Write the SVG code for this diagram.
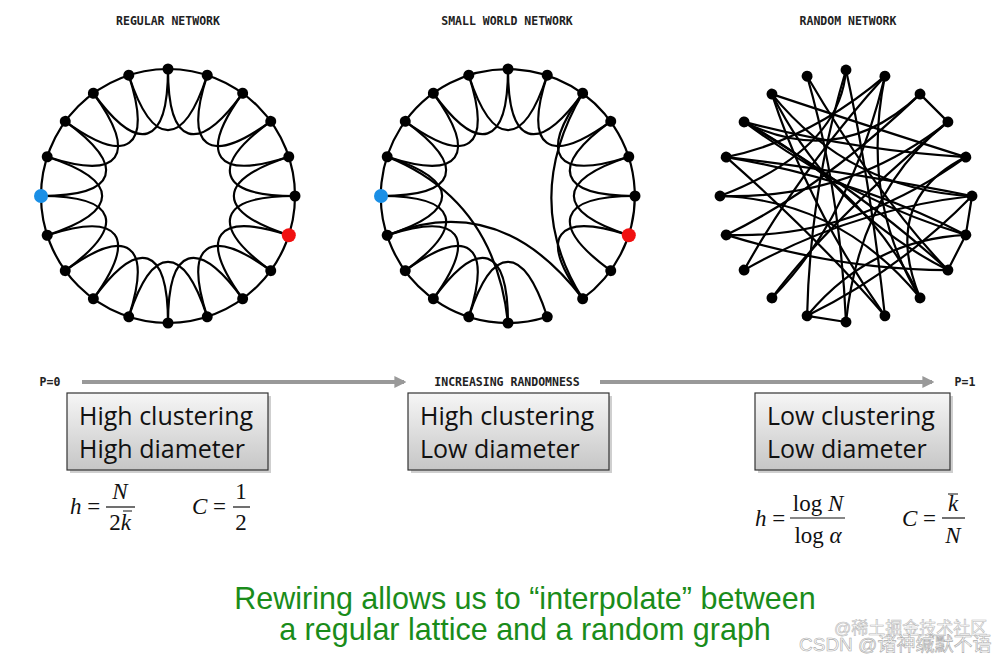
<svg xmlns="http://www.w3.org/2000/svg" xmlns:xlink="http://www.w3.org/1999/xlink" width="1005" height="660" viewBox="0 0 1005 660">
<defs>
<style>
.t{font-family:"DejaVu Sans Mono",monospace;font-weight:bold;font-size:11.5px;fill:#222;text-anchor:middle}
.e{fill:none;stroke:#000;stroke-width:2.2}
.n{fill:#000}
.bx{fill:url(#g);stroke:#333;stroke-width:1.2}
.bt{font-family:"Open Sans",sans-serif;font-size:25px;fill:#111}
.m{font-family:"Liberation Serif",serif;font-size:23px;fill:#111}
.i{font-style:italic}
.gr{font-family:"Liberation Sans",sans-serif;font-size:30.5px;fill:#1a8c1a;text-anchor:middle}
</style>
<linearGradient id="g" x1="0" y1="0" x2="0" y2="1"><stop offset="0" stop-color="#f6f6f6"/><stop offset="1" stop-color="#c6c6c6"/></linearGradient>
<marker id="ar" viewBox="0 0 10 10" refX="8" refY="5" markerWidth="3" markerHeight="3" orient="auto"><path d="M0 0L10 5L0 10z" fill="#999"/></marker>
<path id="sk" d="M127 0C50 0 40.5 29.4 102.7 74.6"/>
<circle id="nd" cx="127" cy="0" r="5.5"/>
</defs>
<rect width="1005" height="660" fill="#fff"/>
<text class="t" x="168" y="25">REGULAR NETWORK</text>
<text class="t" x="507" y="25">SMALL WORLD NETWORK</text>
<text class="t" x="848" y="25">RANDOM NETWORK</text>

<g id="connectors">
<g transform="translate(168 196)" class="e">
<circle r="127"/>
<use href="#sk"/><use href="#sk" transform="rotate(18)"/><use href="#sk" transform="rotate(36)"/><use href="#sk" transform="rotate(54)"/><use href="#sk" transform="rotate(72)"/><use href="#sk" transform="rotate(90)"/><use href="#sk" transform="rotate(108)"/><use href="#sk" transform="rotate(126)"/><use href="#sk" transform="rotate(144)"/><use href="#sk" transform="rotate(162)"/><use href="#sk" transform="rotate(180)"/><use href="#sk" transform="rotate(198)"/><use href="#sk" transform="rotate(216)"/><use href="#sk" transform="rotate(234)"/><use href="#sk" transform="rotate(252)"/><use href="#sk" transform="rotate(270)"/><use href="#sk" transform="rotate(288)"/><use href="#sk" transform="rotate(306)"/><use href="#sk" transform="rotate(324)"/><use href="#sk" transform="rotate(342)"/>
</g>
<g transform="translate(508 196)" class="e">
<path d="M74.6 102.7A127 127 0 1 0 39.2 120.8"/>
<use href="#sk"/><use href="#sk" transform="rotate(18)"/><use href="#sk" transform="rotate(72)"/><use href="#sk" transform="rotate(90)"/><use href="#sk" transform="rotate(108)"/><use href="#sk" transform="rotate(126)"/><use href="#sk" transform="rotate(144)"/><use href="#sk" transform="rotate(162)"/><use href="#sk" transform="rotate(180)"/><use href="#sk" transform="rotate(198)"/><use href="#sk" transform="rotate(216)"/><use href="#sk" transform="rotate(234)"/><use href="#sk" transform="rotate(252)"/><use href="#sk" transform="rotate(270)"/><use href="#sk" transform="rotate(288)"/><use href="#sk" transform="rotate(306)"/><use href="#sk" transform="rotate(324)"/><use href="#sk" transform="rotate(342)"/>
</g>
<g class="e">
<path d="M387.2 156.8Q495 200 508 323"/>
<path d="M387.2 235.2Q500 190 582.7 298.7"/>
<path d="M582.7 93.3Q520 200 582.7 298.7"/>
</g>
<g class="e" stroke-width="2">
<path d="M771.9 94.1Q850 190 972 196"/>
<path d="M771.9 94.1Q810 210 884.9 315.8"/>
<path d="M744.1 121.9Q860 190 947.9 270.1"/>
<path d="M744.1 121.9Q850 150 965.8 157.1"/>
<path d="M726.2 157.1Q860 180 965.8 234.9"/>
<path d="M726.2 157.1Q810 140 884.9 76.2"/>
<path d="M720 196Q850 200 947.9 121.9"/>
<path d="M720 196Q840 200 920.1 297.9"/>
<path d="M726.2 234.9Q820 190 920.1 94.1"/>
<path d="M726.2 234.9Q850 240 965.8 157.1"/>
<path d="M744.1 270.1Q800 170 884.9 76.2"/>
<path d="M744.1 270.1Q850 210 972 196"/>
<path d="M771.9 297.9Q850 220 884.9 76.2"/>
<path d="M771.9 297.9Q830 220 947.9 121.9"/>
<path d="M807.1 315.8Q810 190 846 70"/>
<path d="M807.1 315.8Q870 240 965.8 234.9"/>
<path d="M846 322Q840 190 807.1 76.2"/>
<path d="M846 322Q860 190 947.9 121.9"/>
<path d="M884.9 315.8Q820 240 726.2 157.1"/>
<path d="M884.9 315.8Q870 180 846 70"/>
<path d="M920.1 297.9Q870 190 744.1 121.9"/>
<path d="M920.1 297.9Q880 200 965.8 157.1"/>
<path d="M947.9 270.1Q830 210 771.9 94.1"/>
<path d="M947.9 270.1Q840 270 726.2 234.9"/>
<path d="M965.8 234.9Q850 200 744.1 121.9"/>
<path d="M972 196Q840 170 726.2 157.1"/>
<path d="M807.1 76.2Q880 200 947.9 270.1"/>
<path d="M920.1 94.1Q840 170 744.1 121.9"/>
<path d="M846 70Q840 150 720 196"/>
<path d="M771.9 94.1Q880 130 965.8 157.1"/>
<path d="M807.1 315.8Q900 270 972 196"/>
<path d="M884.9 76.2Q860 200 920.1 297.9"/>
<path d="M920.1 94.1L947.9 121.9M972 196L965.8 234.9M965.8 234.9L947.9 270.1M807.1 315.8L846 322"/>
</g>
</g>

<g id="regular-nodes" transform="translate(168 196)" class="n">
<use href="#nd"/><use href="#nd" transform="rotate(36)"/><use href="#nd" transform="rotate(54)"/><use href="#nd" transform="rotate(72)"/><use href="#nd" transform="rotate(90)"/><use href="#nd" transform="rotate(108)"/><use href="#nd" transform="rotate(126)"/><use href="#nd" transform="rotate(144)"/><use href="#nd" transform="rotate(162)"/><use href="#nd" transform="rotate(198)"/><use href="#nd" transform="rotate(216)"/><use href="#nd" transform="rotate(234)"/><use href="#nd" transform="rotate(252)"/><use href="#nd" transform="rotate(270)"/><use href="#nd" transform="rotate(288)"/><use href="#nd" transform="rotate(306)"/><use href="#nd" transform="rotate(324)"/><use href="#nd" transform="rotate(342)"/>
<circle cx="-127" cy="0" r="7" fill="#1a8fe6"/>
<circle cx="120.8" cy="39.2" r="7" fill="#f01010"/>
</g>
<g id="smallworld-nodes" transform="translate(508 196)" class="n">
<use href="#nd"/><use href="#nd" transform="rotate(36)"/><use href="#nd" transform="rotate(54)"/><use href="#nd" transform="rotate(72)"/><use href="#nd" transform="rotate(90)"/><use href="#nd" transform="rotate(108)"/><use href="#nd" transform="rotate(126)"/><use href="#nd" transform="rotate(144)"/><use href="#nd" transform="rotate(162)"/><use href="#nd" transform="rotate(198)"/><use href="#nd" transform="rotate(216)"/><use href="#nd" transform="rotate(234)"/><use href="#nd" transform="rotate(252)"/><use href="#nd" transform="rotate(270)"/><use href="#nd" transform="rotate(288)"/><use href="#nd" transform="rotate(306)"/><use href="#nd" transform="rotate(324)"/><use href="#nd" transform="rotate(342)"/>
<circle cx="-127" cy="0" r="7" fill="#1a8fe6"/>
<circle cx="120.8" cy="39.2" r="7" fill="#f01010"/>
</g>
<g id="random-nodes" transform="translate(846 196) scale(0.992)" class="n">
<use href="#nd"/><use href="#nd" transform="rotate(18)"/><use href="#nd" transform="rotate(36)"/><use href="#nd" transform="rotate(54)"/><use href="#nd" transform="rotate(72)"/><use href="#nd" transform="rotate(90)"/><use href="#nd" transform="rotate(108)"/><use href="#nd" transform="rotate(126)"/><use href="#nd" transform="rotate(144)"/><use href="#nd" transform="rotate(162)"/><use href="#nd" transform="rotate(180)"/><use href="#nd" transform="rotate(198)"/><use href="#nd" transform="rotate(216)"/><use href="#nd" transform="rotate(234)"/><use href="#nd" transform="rotate(252)"/><use href="#nd" transform="rotate(270)"/><use href="#nd" transform="rotate(288)"/><use href="#nd" transform="rotate(306)"/><use href="#nd" transform="rotate(324)"/><use href="#nd" transform="rotate(342)"/>
</g>

<g id="axis">
<text class="t" x="50" y="386">P=0</text>
<line x1="82" y1="382" x2="404" y2="382" stroke="#999" stroke-width="4" marker-end="url(#ar)"/>
<text class="t" x="507" y="386">INCREASING RANDOMNESS</text>
<line x1="600" y1="382" x2="932" y2="382" stroke="#999" stroke-width="4" marker-end="url(#ar)"/>
<text class="t" x="965" y="386">P=1</text>
</g>

<g id="box1"><rect x="70" y="396" width="201" height="77" fill="#888" opacity="0.4"/><rect class="bx" x="67" y="393" width="201" height="77"/><text class="bt" x="79" y="425">High clustering</text><text class="bt" x="79" y="458">High diameter</text></g>
<g id="box2"><rect x="411" y="396" width="201" height="77" fill="#888" opacity="0.4"/><rect class="bx" x="408" y="393" width="201" height="77"/><text class="bt" x="420" y="425">High clustering</text><text class="bt" x="420" y="458">Low diameter</text></g>
<g id="box3"><rect x="758" y="396" width="195" height="77" fill="#888" opacity="0.4"/><rect class="bx" x="755" y="393" width="195" height="77"/><text class="bt" x="767" y="425">Low clustering</text><text class="bt" x="767" y="458">Low diameter</text></g>

<g id="formula1">
<text class="m" x="70" y="514"><tspan class="i">h</tspan> =</text>
<line x1="106" y1="507" x2="135" y2="507" stroke="#111" stroke-width="1.2"/>
<text class="m i" x="120" y="499" text-anchor="middle">N</text>
<text class="m" x="120" y="530" text-anchor="middle">2<tspan class="i">k</tspan></text>
<line x1="123" y1="511" x2="132" y2="511" stroke="#111" stroke-width="1"/>
<text class="m" x="192" y="514"><tspan class="i">C</tspan> =</text>
<line x1="233" y1="507" x2="250" y2="507" stroke="#111" stroke-width="1.2"/>
<text class="m" x="241" y="499" text-anchor="middle">1</text>
<text class="m" x="241" y="530" text-anchor="middle">2</text>
</g>
<g id="formula2">
<text class="m" x="755" y="526"><tspan class="i">h</tspan> =</text>
<line x1="790" y1="518" x2="845" y2="518" stroke="#111" stroke-width="1.2"/>
<text class="m" x="818" y="511" text-anchor="middle">log <tspan class="i">N</tspan></text>
<text class="m" x="818" y="543" text-anchor="middle">log <tspan class="i">α</tspan></text>
<text class="m" x="902" y="526"><tspan class="i">C</tspan> =</text>
<line x1="942" y1="518" x2="965" y2="518" stroke="#111" stroke-width="1.2"/>
<text class="m i" x="953" y="511" text-anchor="middle">k</text>
<line x1="948" y1="494" x2="958" y2="494" stroke="#111" stroke-width="1"/>
<text class="m i" x="953" y="543" text-anchor="middle">N</text>
</g>

<text class="gr" x="525" y="609">Rewiring allows us to “interpolate” between</text>
<text class="gr" x="525" y="640">a regular lattice and a random graph</text>
<text x="834" y="634" font-family="Liberation Sans,'Noto Sans CJK SC',sans-serif" font-size="17" fill="#fff" stroke="#bbb" stroke-width="0.6">@稀土掘金技术社区</text>
<text x="799" y="651" font-family="Liberation Sans,'Noto Sans CJK SC',sans-serif" font-size="19" fill="#fff" stroke="#aaa" stroke-width="0.6">CSDN @诸神缄默不语</text>
</svg>
